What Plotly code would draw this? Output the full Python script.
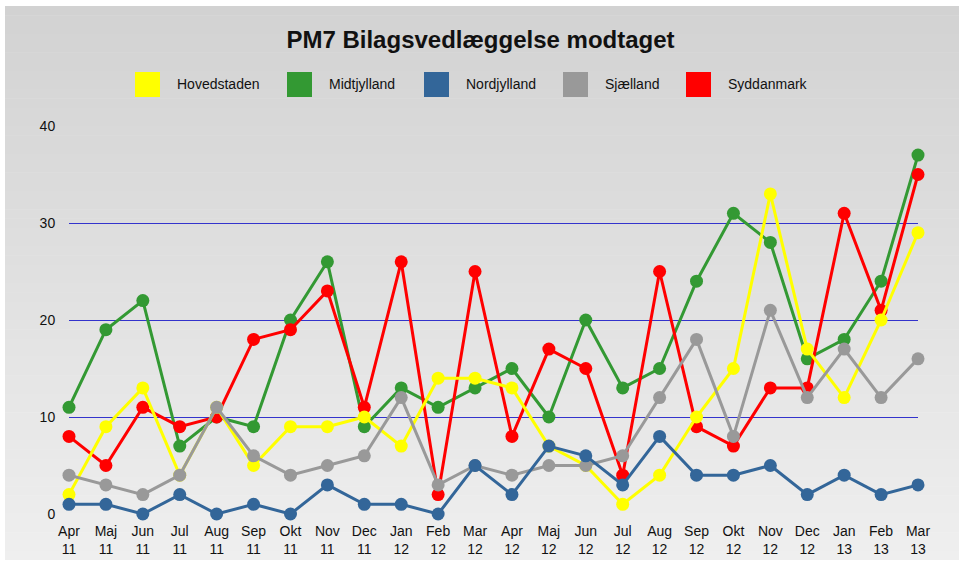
import plotly.graph_objects as go

months = ["Apr<br>11", "Maj<br>11", "Jun<br>11", "Jul<br>11", "Aug<br>11", "Sep<br>11",
          "Okt<br>11", "Nov<br>11", "Dec<br>11", "Jan<br>12", "Feb<br>12", "Mar<br>12",
          "Apr<br>12", "Maj<br>12", "Jun<br>12", "Jul<br>12", "Aug<br>12", "Sep<br>12",
          "Okt<br>12", "Nov<br>12", "Dec<br>12", "Jan<br>13", "Feb<br>13", "Mar<br>13"]

hovedstaden = [2, 9, 13, 4, 11, 5, 9, 9, 10, 7, 14, 14, 13, 7, 5, 1, 4, 10, 15, 33, 17, 12, 20, 29]
midtjylland = [11, 19, 22, 7, 10, 9, 20, 26, 9, 13, 11, 13, 15, 10, 20, 13, 15, 24, 31, 28, 16, 18, 24, 37]
nordjylland = [1, 1, 0, 2, 0, 1, 0, 3, 1, 1, 0, 5, 2, 7, 6, 3, 8, 4, 4, 5, 2, 4, 2, 3]
sjaelland = [4, 3, 2, 4, 11, 6, 4, 5, 6, 12, 3, 5, 4, 5, 5, 6, 12, 18, 8, 21, 12, 17, 12, 16]
syddanmark = [8, 5, 11, 9, 10, 18, 19, 23, 11, 26, 2, 25, 8, 17, 15, 4, 25, 9, 7, 13, 13, 31, 21, 35]

y_ticks = [0, 10, 20, 30, 40]

series = {
    "Hovedstaden": (hovedstaden, "#ffff00"),
    "Midtjylland": (midtjylland, "#339933"),
    "Nordjylland": (nordjylland, "#336699"),
    "Sjælland": (sjaelland, "#999999"),
    "Syddanmark": (syddanmark, "#ff0000"),
}
legend_order = ["Hovedstaden", "Midtjylland", "Nordjylland", "Sjælland", "Syddanmark"]
draw_order = ["Midtjylland", "Syddanmark", "Hovedstaden", "Sjælland", "Nordjylland"]

W, H = 961, 562
L, R, T, B = 69, 43, 126, 48
PW, PH = W - L - R, H - T - B
FONT = "Liberation Sans, Arial, sans-serif"


def px(x):
    return (x - L) / PW


def py(y):
    return (H - B - y) / PH


fig = go.Figure()
x_idx = list(range(len(months)))
for name in draw_order:
    vals, col = series[name]
    fig.add_trace(go.Scatter(
        x=x_idx, y=vals, name=name, mode="lines+markers",
        line=dict(color=col, width=3),
        marker=dict(color=col, size=13),
        cliponaxis=False, showlegend=False,
    ))

shapes = []
# gradient background bands
top_y, bot_y = 6, 560
n = 60
c0, c1 = 210, 239
for i in range(n):
    y0 = top_y + (bot_y - top_y) * i / n
    y1 = top_y + (bot_y - top_y) * (i + 1) / n + 0.5
    c = round(c0 + (c1 - c0) * (i + 0.5) / n)
    shapes.append(dict(type="rect", xref="paper", yref="paper",
                       x0=px(5), x1=px(959), y0=py(min(y1, bot_y)), y1=py(y0),
                       fillcolor=f"rgb({c},{c},{c})", line=dict(width=0), layer="below"))

# manual legend
swatch_x = [135, 287, 424, 563, 686]
annotations = []
for sx, name in zip(swatch_x, legend_order):
    col = series[name][1]
    shapes.append(dict(type="rect", xref="paper", yref="paper",
                       x0=px(sx), x1=px(sx + 25), y0=py(97), y1=py(72),
                       fillcolor=col, line=dict(width=0), layer="above"))
    annotations.append(dict(xref="paper", yref="paper", x=px(sx + 40), y=py(84),
                            text=name, showarrow=False, xanchor="left", yanchor="middle",
                            font=dict(family=FONT, size=14, color="#111111")))

fig.update_layout(
    width=W, height=H, autosize=False,
    margin=dict(l=L, r=R, t=T, b=B),
    paper_bgcolor="white", plot_bgcolor="rgba(0,0,0,0)",
    font=dict(family=FONT, size=14, color="#111111"),
    title=dict(text="<b>PM7 Bilagsvedlæggelse modtaget</b>", x=0.5, xanchor="center",
               y=(H - 40) / H, yanchor="middle",
               font=dict(family=FONT, size=24, color="#111111")),
    shapes=shapes, annotations=annotations,
    showlegend=False,
    xaxis=dict(range=[0, len(months) - 1], tickmode="array", tickvals=x_idx, ticktext=months,
               showgrid=False, zeroline=False, showline=False, automargin=False,
               ticks="outside", ticklen=4, tickcolor="rgba(0,0,0,0)",
               tickfont=dict(size=14)),
    yaxis=dict(range=[0, 40], tickmode="array", tickvals=y_ticks,
               showgrid=True, gridcolor="#3333cc", gridwidth=1, automargin=False,
               zeroline=False, showline=False,
               ticks="outside", ticklen=10, tickcolor="rgba(0,0,0,0)",
               tickfont=dict(size=14)),
)

fig.write_html("out.html", config={"displayModeBar": False},
               post_script="document.body.style.margin='0px';")
